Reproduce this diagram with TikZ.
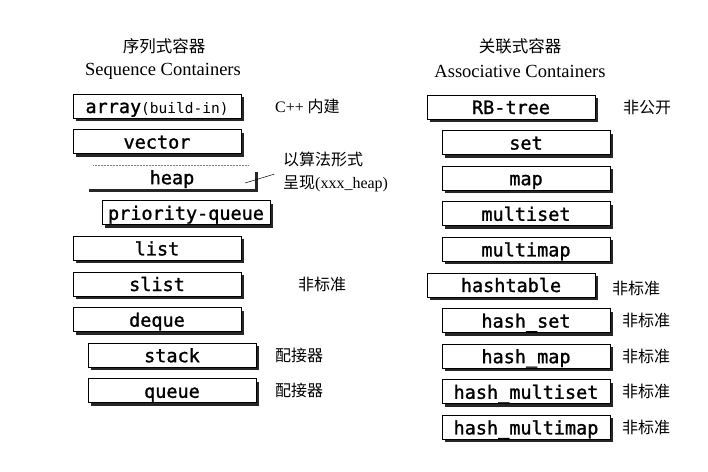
\documentclass[tikz,border=0pt]{standalone}
\usepackage{fontspec}
\setmainfont{Liberation Serif}
\newfontfamily\cjk{Noto Sans CJK SC}
\newfontfamily\boxfont[FakeBold=1.3]{DejaVu Sans Mono}
\newfontfamily\smallboxfont{DejaVu Sans Mono}
\usetikzlibrary{shadows}

\tikzset{
  cbox/.style={draw, fill=white, line width=0.7pt, minimum width=168pt, minimum height=24pt,
    inner sep=0pt, text height=16pt, text depth=2pt, font=\boxfont\fontsize{18.5}{18}\selectfont,
    drop shadow={shadow xshift=3pt, shadow yshift=-3pt, fill=black!85, opacity=1}},
  hbox/.style={minimum width=165pt, minimum height=24pt, inner sep=0pt, text height=16pt,
    text depth=2pt, font=\boxfont\fontsize{18.5}{18}\selectfont},
  note/.style={anchor=west, inner sep=0pt, font=\cjk\fontsize{16}{23}\selectfont},
  title/.style={inner sep=0pt, font=\fontsize{18.5}{22}\selectfont},
  titlezh/.style={inner sep=0pt, font=\cjk\fontsize{16.5}{20}\selectfont}
}

\begin{document}
\begin{tikzpicture}[x=1pt, y=-1pt]
\useasboundingbox (0,0) rectangle (708,471);

% sequence containers
\node[titlezh] (seqzh) at (164,46) {序列式容器};
\node[title] (seqen) at (163,71) {Sequence Containers};

\node[cbox] (array) at (157,106) {array{\smallboxfont\fontsize{14.5}{14}\selectfont(build-in)}};
\node[cbox] (vector) at (157,141.6) {vector};
\node[hbox] (heap) at (172,177.2) {heap};
\draw[densely dotted, gray, line width=0.5pt] ([xshift=4pt]heap.north west) -- ([xshift=-6pt]heap.north east);
\draw[line width=2.8pt, black!85] ([xshift=1.4pt,yshift=-7pt]heap.north east) |- ([yshift=-1.4pt]heap.south west);
\node[cbox] (pqueue) at (186,212.8) {priority-queue};
\node[cbox] (list) at (157,248.4) {list};
\node[cbox] (slist) at (157,284) {slist};
\node[cbox] (deque) at (157,319.6) {deque};
\node[cbox] (stack) at (172,355.2) {stack};
\node[cbox] (queue) at (172,390.8) {queue};

\node[note] (builtin) at (275,106) {{\rmfamily C++} 内建};
\node[note, align=left] (algo) at (283,171.5) {以算法形式\\呈现{\rmfamily(xxx\_heap)}};
\coordinate (heapin) at (245,183);
\draw[line width=0.5pt, shorten >=9pt] (heapin) -- (algo.west);
\node[note] (slistns) at (298,284) {非标准};
\node[note] (stackad) at (275,355.2) {配接器};
\node[note] (queuead) at (275,390.8) {配接器};

% associative containers
\node[titlezh] (asszh) at (520,46) {关联式容器};
\node[title] (assen) at (520,71) {Associative Containers};

\node[cbox] (rbtree) at (511,107) {RB-tree};
\node[cbox] (set) at (526,142.6) {set};
\node[cbox] (map) at (526,178.2) {map};
\node[cbox] (multiset) at (526,213.8) {multiset};
\node[cbox] (multimap) at (526,249.4) {multimap};
\node[cbox] (hashtable) at (511,285) {hashtable};
\node[cbox] (hashset) at (526,320.6) {hash\_set};
\node[cbox] (hashmap) at (526,356.2) {hash\_map};
\node[cbox] (hashmset) at (526,391.8) {hash\_multiset};
\node[cbox] (hashmmap) at (526,427.4) {hash\_multimap};

\node[note] (rbnp) at (623,107) {非公开};
\node[note] (htns) at (612,288) {非标准};
\node[note] (hsns) at (622,320.6) {非标准};
\node[note] (hmns) at (622,356.2) {非标准};
\node[note] (hmsns) at (622,391.8) {非标准};
\node[note] (hmmns) at (622,427.4) {非标准};
\end{tikzpicture}
\end{document}
